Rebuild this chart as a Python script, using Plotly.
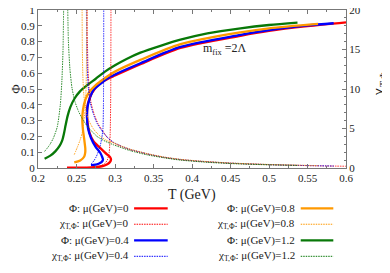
import plotly.graph_objects as go

# ---------------- data ----------------
mu_labels = ["0", "0.4", "0.8", "1.2"]
colors = ["#ff0000", "#0000ff", "#ff9900", "#087808"]

# Phi curves (parametric: T, Phi)
phi_T_mu0 = [0.2377, 0.255, 0.270, 0.2795, 0.285, 0.2905, 0.2935, 0.2948, 0.2938, 0.2896, 0.281,
             0.2722, 0.267, 0.2644, 0.2636, 0.2649, 0.270, 0.2787, 0.290, 0.300, 0.333, 0.385,
             0.463, 0.500, 0.550, 0.600]
phi_V_mu0 = [0.002, 0.002, 0.004, 0.008, 0.013, 0.025, 0.038, 0.053, 0.068, 0.086, 0.126,
             0.168, 0.221, 0.284, 0.347, 0.41, 0.474, 0.528, 0.562, 0.585, 0.657, 0.76,
             0.837, 0.868, 0.898, 0.922]

phi_T_mu04 = [0.2688, 0.2745, 0.2787, 0.2825, 0.2844, 0.2835, 0.281, 0.2744, 0.2688, 0.2649,
              0.2636, 0.2644, 0.268, 0.2722, 0.281, 0.290, 0.300, 0.333, 0.385, 0.463, 0.500,
              0.550, 0.584]
phi_V_mu04 = [0.018, 0.021, 0.027, 0.037, 0.052, 0.068, 0.095, 0.137, 0.19, 0.253,
              0.326, 0.389, 0.452, 0.495, 0.532, 0.566, 0.592, 0.663, 0.766, 0.842, 0.872,
              0.902, 0.916]

phi_T_mu08 = [0.2471, 0.2549, 0.2601, 0.2614, 0.2614, 0.2601, 0.2584, 0.2575, 0.2584, 0.2614,
              0.267, 0.275, 0.285, 0.300, 0.333, 0.385, 0.463, 0.500, 0.5637]
phi_V_mu08 = [0.035, 0.048, 0.073, 0.10, 0.125, 0.179, 0.242, 0.305, 0.368, 0.431,
              0.484, 0.525, 0.562, 0.61, 0.684, 0.784, 0.859, 0.884, 0.912]

phi_T_mu12 = [0.2086, 0.216, 0.2225, 0.228, 0.2315, 0.2338, 0.2358, 0.2385, 0.242, 0.2475,
              0.2545, 0.264, 0.275, 0.287, 0.300, 0.315, 0.333, 0.360, 0.385, 0.420, 0.463,
              0.500, 0.537]
phi_V_mu12 = [0.058, 0.078, 0.105, 0.14, 0.175, 0.22, 0.27, 0.33, 0.385, 0.44,
              0.485, 0.525, 0.565, 0.61, 0.65, 0.69, 0.73, 0.775, 0.812, 0.852, 0.884,
              0.905, 0.92]

# susceptibility curves chi_T,Phi (two branches each)
chi_T_mu0_a = [0.2377, 0.255, 0.270, 0.280, 0.286, 0.290, 0.2925, 0.2938, 0.2944, 0.2948]
chi_V_mu0_a = [0.03, 0.05, 0.1, 0.25, 0.5, 1.0, 2.0, 4.5, 9.0, 22]
chi_T_mu0_b = [0.2638, 0.2642, 0.265, 0.2665, 0.269, 0.273, 0.278, 0.284, 0.290, 0.298, 0.310,
               0.320, 0.342, 0.363, 0.385, 0.410, 0.450, 0.500, 0.550, 0.600]
chi_V_mu0_b = [22, 16, 12.5, 10, 8.2, 6.8, 5.6, 4.7, 3.85, 3.2, 2.65,
               2.3, 1.76, 1.35, 1.05, 0.84, 0.6, 0.42, 0.3, 0.22]

chi_T_mu04_a = [0.2688, 0.2701, 0.2725, 0.2755, 0.2785, 0.281, 0.283, 0.2844, 0.2850, 0.2854]
chi_V_mu04_a = [0.5, 0.63, 0.9, 1.4, 2.1, 2.9, 3.9, 5.05, 8, 22]
chi_T_mu04_b = [0.2628, 0.2632, 0.264, 0.2655, 0.268, 0.272, 0.277, 0.283, 0.290, 0.298, 0.310,
                0.320, 0.342, 0.363, 0.385, 0.410, 0.450, 0.500, 0.550, 0.584]
chi_V_mu04_b = [22, 16, 12.5, 10, 8.2, 6.8, 5.6, 4.7, 3.9, 3.25, 2.7,
                2.35, 1.8, 1.38, 1.08, 0.86, 0.62, 0.43, 0.31, 0.25]

chi_T_mu08_a = [0.2471, 0.251, 0.2549, 0.2575, 0.2592, 0.2605, 0.2614, 0.2622, 0.2628, 0.2634]
chi_V_mu08_a = [1.7, 2.6, 3.6, 4.5, 5.7, 6.7, 7.8, 9.5, 12, 22]
chi_T_mu08_b = [0.2572, 0.2576, 0.2583, 0.2595, 0.2612, 0.2636, 0.267, 0.2716, 0.2766, 0.283,
                0.290, 0.298, 0.310, 0.320, 0.342, 0.363, 0.385, 0.410, 0.450, 0.500, 0.5637]
chi_V_mu08_b = [22, 15, 11.5, 9.3, 7.8, 6.7, 5.8, 5.0, 4.4, 3.85,
                3.45, 3.2, 2.72, 2.38, 1.82, 1.4, 1.1, 0.88, 0.63, 0.45, 0.3]

chi_T_mu12_a = [0.2086, 0.215, 0.220, 0.225, 0.229, 0.231, 0.2325, 0.2335]
chi_V_mu12_a = [2.1, 2.9, 3.8, 5.2, 8.0, 11, 15, 22]
chi_T_mu12_b = [0.2383, 0.2395, 0.2415, 0.2442, 0.248, 0.2527, 0.259, 0.2657, 0.2766, 0.287,
                0.298, 0.320, 0.342, 0.363, 0.385, 0.420, 0.460, 0.500, 0.537]
chi_V_mu12_b = [22, 16, 12.5, 10.1, 8.4, 7.15, 6.0, 5.1, 4.0, 3.4,
                2.94, 2.19, 1.66, 1.3, 1.0, 0.72, 0.52, 0.4, 0.32]

phi_T = [phi_T_mu0, phi_T_mu04, phi_T_mu08, phi_T_mu12]
phi_V = [phi_V_mu0, phi_V_mu04, phi_V_mu08, phi_V_mu12]
chi_T = [[chi_T_mu0_a, chi_T_mu0_b], [chi_T_mu04_a, chi_T_mu04_b],
         [chi_T_mu08_a, chi_T_mu08_b], [chi_T_mu12_a, chi_T_mu12_b]]
chi_V = [[chi_V_mu0_a, chi_V_mu0_b], [chi_V_mu04_a, chi_V_mu04_b],
         [chi_V_mu08_a, chi_V_mu08_b], [chi_V_mu12_a, chi_V_mu12_b]]

FONT = "Liberation Serif, Times New Roman, serif"
TXT = "#222222"
AX = "#777777"
DOT = "1.5px,1px"

fig = go.Figure()

# dotted susceptibilities (right axis)
for i in range(4):
    for br in range(2):
        fig.add_trace(go.Scatter(x=chi_T[i][br], y=chi_V[i][br], mode="lines", yaxis="y2",
                                 line=dict(color=colors[i], width=1, dash=DOT, shape="spline",
                                           smoothing=0.6),
                                 opacity=0.85, showlegend=False, hoverinfo="skip"))
# solid Phi curves (left axis)
for i in range(4):
    fig.add_trace(go.Scatter(x=phi_T[i], y=phi_V[i], mode="lines",
                             line=dict(color=colors[i], width=2.3, shape="spline", smoothing=0.8),
                             showlegend=False, hoverinfo="skip"))

# custom legend (text left of sample line, two columns)
rows_y = [-0.255, -0.356, -0.4576, -0.5589]
cols = [(0.301, 0.312, 0.4211), (0.840, 0.853, 0.9588)]
entries = []
for i, mu in enumerate(mu_labels):
    entries.append(("Φ: μ(GeV)=" + mu, colors[i], "solid"))
    entries.append(("χ<sub>T,Φ</sub>: μ(GeV)=" + mu, colors[i], "dot"))
for k, (label, col, kind) in enumerate(entries):
    c = k // 4
    r = k % 4
    tx, lx0, lx1 = cols[c]
    y = rows_y[r]
    fig.add_annotation(x=tx, y=y, xref="paper", yref="paper", text=label, showarrow=False,
                       xanchor="right", yanchor="middle",
                       font=dict(family=FONT, size=11, color=TXT))
    fig.add_shape(type="line", xref="paper", yref="paper", x0=lx0, x1=lx1, y0=y, y1=y,
                  line=dict(color=col, width=2.3 if kind == "solid" else 1,
                            dash="solid" if kind == "solid" else DOT))

fig.add_annotation(x=0.4416, y=0.753, xref="x", yref="y", text="m<sub>fix</sub> =2Λ",
                   showarrow=False, font=dict(family=FONT, size=12, color=TXT))
# x axis title
fig.add_annotation(x=0.5, y=-0.171, xref="paper", yref="paper", text="T (GeV)",
                   showarrow=False, yanchor="middle",
                   font=dict(family=FONT, size=14, color=TXT))
# right axis title: chi with subscript T,Phi (rotated, reading upwards)
fig.add_annotation(x=1.108, y=0.481, xref="paper", yref="paper", text="χ",
                   showarrow=False, textangle=-90, xanchor="center", yanchor="middle",
                   font=dict(family=FONT, size=16, color=TXT))
fig.add_annotation(x=1.122, y=0.56, xref="paper", yref="paper", text="T,Φ",
                   showarrow=False, textangle=-90, xanchor="center", yanchor="middle",
                   font=dict(family=FONT, size=10, color=TXT))

axis_common = dict(showline=True, linecolor=AX, linewidth=1, ticks="inside", tickcolor=AX,
                   ticklen=4, showgrid=False, zeroline=False, automargin=False,
                   ticklabeloverflow="allow",
                   tickfont=dict(family=FONT, size=11, color=TXT))

# the page adds an 8px body margin, so the figure is sized to fit the window
fig.update_layout(
    width=382, height=265,
    margin=dict(l=30, r=44, t=2, b=105, autoexpand=False),
    paper_bgcolor="white", plot_bgcolor="white",
    font=dict(family=FONT, color=TXT),
    showlegend=False,
    xaxis=dict(range=[0.2, 0.6], dtick=0.05, tick0=0.2, mirror="ticks",
               minor=dict(dtick=0.025, ticks="inside", ticklen=2, tickcolor=AX),
               **axis_common),
    yaxis=dict(range=[0, 1], dtick=0.1, tick0=0,
               title=dict(text="Φ", font=dict(family=FONT, size=13, color=TXT), standoff=4),
               **axis_common),
    yaxis2=dict(range=[0, 20], dtick=5, tick0=0, overlaying="y", side="right",
                minor=dict(dtick=1, ticks="inside", ticklen=2, tickcolor=AX),
                **axis_common),
)

fig.write_html("out.html")
